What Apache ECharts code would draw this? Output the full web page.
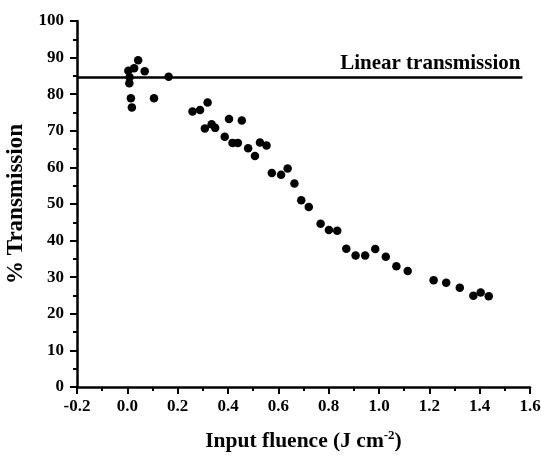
<!DOCTYPE html>
<html>
<head>
<meta charset="utf-8">
<script src="https://cdn.jsdelivr.net/npm/echarts@6/dist/echarts.min.js"></script>
<style>html,body{margin:0;padding:0;background:#fff}#c{width:541px;height:456px}</style>
</head>
<body>
<div id="c"></div>
<script>
const fluence = [0.004,0.027,0.043,0.069,0.009,0.008,0.014,0.018,0.106,0.164,0.259,0.289,0.319,
  0.308,0.335,0.349,0.404,0.455,0.387,0.418,0.439,0.480,0.507,0.527,0.553,0.574,0.611,0.637,0.664,0.691,0.721,
  0.768,0.801,0.834,0.870,0.907,0.945,0.985,1.027,1.069,1.114,1.217,1.267,1.321,1.375,1.404,1.436];
const transmission = [86.4,87.1,89.3,86.3,84.6,83.0,78.9,76.4,78.9,84.8,75.3,75.7,77.7,
  70.6,71.8,70.8,73.2,72.8,68.4,66.7,66.7,65.2,63.1,66.8,66.0,58.5,58.0,59.7,55.6,51.0,49.2,
  44.6,42.9,42.7,37.8,35.9,35.9,37.7,35.6,33.0,31.7,29.2,28.5,27.1,24.9,25.8,24.8];
const linearLevel = 84.5;
const linearLineEnd = 1.57;
const linearLabel = 'Linear transmission';
const xTicks = {min:-0.2, max:1.6, interval:0.2};
const yTicks = {min:0, max:100, interval:10};

const font = 'Liberation Serif';
const chart = echarts.init(document.getElementById('c'));
const axisCommon = {
  axisLine:{show:true, onZero:false, lineStyle:{color:'#000', width:2.5}},
  axisTick:{show:true, inside:false, length:7, lineStyle:{color:'#000', width:2}},
  minorTick:{show:true, splitNumber:2, length:4, lineStyle:{color:'#000', width:2}},
  splitLine:{show:false},
  axisLabel:{color:'#000', fontFamily:font, fontWeight:'bold', fontSize:17}
};
chart.setOption({
  animation:false,
  backgroundColor:'#fff',
  grid:{left:77, right:11, top:21, bottom:69, containLabel:false, outerBoundsMode:'none'},
  xAxis:Object.assign({}, axisCommon, {
    type:'value', min:xTicks.min, max:xTicks.max, interval:xTicks.interval,
    axisLabel:Object.assign({}, axisCommon.axisLabel, {margin:11, formatter:v=>v.toFixed(1)}),
    name:'{a|Input fluence (J cm}{s|-2}{a|)}',
    nameLocation:'middle', nameGap:42,
    nameTextStyle:{rich:{
      a:{fontFamily:font, fontWeight:'bold', fontSize:21.5, color:'#000', verticalAlign:'bottom'},
      s:{fontFamily:font, fontWeight:'bold', fontSize:13, color:'#000', verticalAlign:'top', padding:[0,0,10,0]}
    }}
  }),
  yAxis:Object.assign({}, axisCommon, {
    type:'value', min:yTicks.min, max:yTicks.max, interval:yTicks.interval,
    axisLabel:Object.assign({}, axisCommon.axisLabel, {margin:13}),
    name:'% Transmission', nameLocation:'middle', nameGap:46,
    nameTextStyle:{fontFamily:font, fontWeight:'bold', fontSize:23, color:'#000'}
  }),
  series:[{
    type:'scatter',
    data:fluence.map((x,i)=>[x, transmission[i]]),
    symbolSize:8.5,
    itemStyle:{color:'#000', opacity:1},
    markLine:{
      silent:true,
      symbol:['none','none'],
      lineStyle:{color:'#000', width:2.5, type:'solid'},
      label:{show:true, position:'insideEndTop', formatter:linearLabel, distance:[2,4],
        fontFamily:font, fontWeight:'bold', fontSize:21, color:'#000'},
      data:[[{coord:[xTicks.min, linearLevel]},{coord:[linearLineEnd, linearLevel]}]]
    }
  }]
});
</script>
</body>
</html>
